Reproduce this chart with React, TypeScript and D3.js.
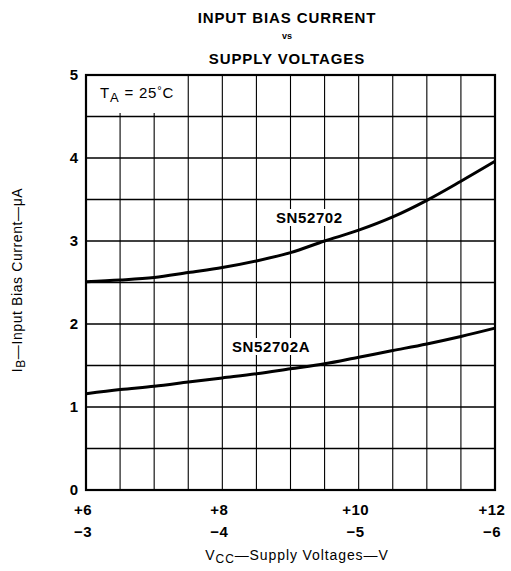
import React from 'react';
import * as d3 from 'd3';

// supply voltage (V+) and bias current (uA)
const voltages = [6, 6.5, 7, 7.5, 8, 8.5, 9, 9.5, 10, 10.5, 11, 11.5, 12];
const sn52702 = [2.51, 2.53, 2.56, 2.62, 2.68, 2.76, 2.86, 3.0, 3.13, 3.29, 3.49, 3.72, 3.96];
const sn52702A = [1.16, 1.21, 1.25, 1.3, 1.35, 1.4, 1.46, 1.52, 1.6, 1.68, 1.76, 1.85, 1.95];

const xTicks = [6, 8, 10, 12];
const xTickPos = ['+6', '+8', '+10', '+12'];
const xTickNeg = ['\u22123', '\u22124', '\u22125', '\u22126'];
const yTicks = [0, 1, 2, 3, 4, 5];

const W = 511;
const H = 571;
const left = 86;
const right = 495;
const top = 75;
const bottom = 490;

const font = '"Liberation Sans", Arial, Helvetica, sans-serif';

const App: React.FC = () => {
  const x = d3.scaleLinear().domain([6, 12]).range([left, right]);
  const y = d3.scaleLinear().domain([0, 5]).range([bottom, top]);

  const line = d3
    .line<[number, number]>()
    .x(d => x(d[0]))
    .y(d => y(d[1]))
    .curve(d3.curveMonotoneX);

  const vGrid = d3.range(6, 12.01, 0.5);
  const hGrid = d3.range(0, 5.01, 0.5);

  const series = [
    { name: 'SN52702', values: sn52702, lx: 276, ly: 223, w: 74 },
    { name: 'SN52702A', values: sn52702A, lx: 232, ly: 352, w: 84 },
  ];

  return (
    <svg width={W} height={H} style={{ position: 'absolute', left: 0, top: 0, background: '#fff' }} fontFamily={font}>
      {/* title */}
      <text x={287} y={23} textAnchor="middle" fontSize={15} fontWeight="bold" letterSpacing={0.9}>INPUT BIAS CURRENT</text>
      <text x={287} y={39} textAnchor="middle" fontSize={9} fontWeight="bold">vs</text>
      <text x={287} y={64} textAnchor="middle" fontSize={15} fontWeight="bold" letterSpacing={0.9}>SUPPLY VOLTAGES</text>

      {/* grid */}
      <g stroke="#000">
        {vGrid.map(v => (
          <line key={'v' + v} x1={x(v)} x2={x(v)} y1={top} y2={bottom} strokeWidth={1.1} />
        ))}
        {hGrid.map(v => (
          <line key={'h' + v} x1={left} x2={right} y1={y(v)} y2={y(v)} strokeWidth={1.6} />
        ))}
      </g>

      {/* T_A box */}
      <rect x={left + 1} y={top + 1} width={99} height={37} fill="#fff" />
      <text x={100} y={98} fontSize={15} letterSpacing={0.8}>
        T<tspan fontSize={13} dy={4}>A</tspan>
        <tspan dy={-4}> = 25</tspan>
        <tspan fontSize={11} dy={-4}>°</tspan>
        <tspan dy={4}>C</tspan>
      </text>

      {/* frame */}
      <rect x={left} y={top} width={right - left} height={bottom - top} fill="none" stroke="#000" strokeWidth={2.2} />

      {/* curves */}
      {series.map(s => (
        <g key={s.name}>
          <path
            d={line(voltages.map((v, i) => [v, s.values[i]] as [number, number])) || ''}
            fill="none"
            stroke="#000"
            strokeWidth={3}
          />
          <rect x={s.lx - 2} y={s.ly - 14} width={s.w + 4} height={17} fill="#fff" />
          <text x={s.lx} y={s.ly} fontSize={15} fontWeight="bold" letterSpacing={0.6}>{s.name}</text>
        </g>
      ))}

      {/* y ticks */}
      {yTicks.map(t => (
        <text key={t} x={78} y={y(t) + 5} textAnchor="end" fontSize={15} fontWeight="bold">{t}</text>
      ))}

      {/* x ticks */}
      {xTicks.map((t, i) => (
        <g key={t}>
          <text x={x(t) - 3} y={515} textAnchor="middle" fontSize={15} fontWeight="bold" letterSpacing={0.5}>{xTickPos[i]}</text>
          <text x={x(t) - 3} y={537} textAnchor="middle" fontSize={15} fontWeight="bold" letterSpacing={0.5}>{xTickNeg[i]}</text>
        </g>
      ))}

      {/* axis titles */}
      <text x={297} y={560} textAnchor="middle" fontSize={14} letterSpacing={0.9}>
        V<tspan fontSize={12} dy={3}>CC</tspan>
        <tspan dy={-3}>{'\u2014Supply Voltages\u2014V'}</tspan>
      </text>
      <text transform="translate(22,280) rotate(-90)" textAnchor="middle" fontSize={14} letterSpacing={0.6}>
        I<tspan fontSize={12} dy={3}>B</tspan>
        <tspan dy={-3}>{'\u2014Input Bias Current\u2014\u03bcA'}</tspan>
      </text>
    </svg>
  );
};

export default App;
